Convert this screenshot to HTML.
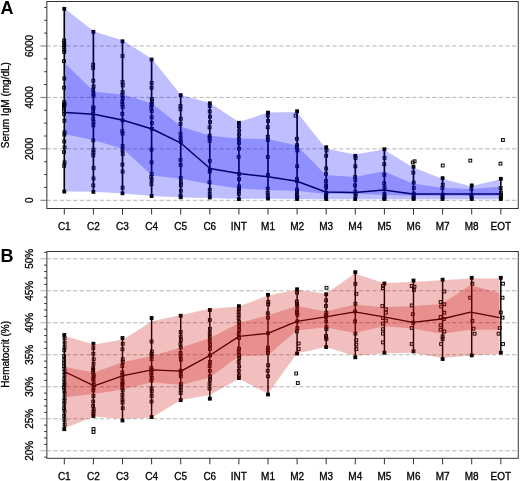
<!DOCTYPE html>
<html><head><meta charset="utf-8"><style>
html,body{margin:0;padding:0;background:#fff;}
svg{display:block;}
.t{font-family:"Liberation Sans",sans-serif;font-size:10px;fill:#000;stroke:#000;stroke-width:0.3px;}
text{-webkit-font-smoothing:antialiased;}
svg{will-change:transform;}
.L{font-family:"Liberation Sans",sans-serif;font-size:18px;font-weight:bold;fill:#000;}
</style></head><body>
<svg width="520" height="481" viewBox="0 0 520 481">
<defs><clipPath id="cA"><rect x="46.85" y="1.5" width="471.4" height="207"/></clipPath><clipPath id="cB"><rect x="46.85" y="251.5" width="471.4" height="206.8"/></clipPath></defs>
<g clip-path="url(#cA)">
<line x1="46.5" x2="518" y1="200.30" y2="200.30" stroke="#b4b4b4" stroke-width="1" stroke-dasharray="4.25,2.4"/>
<line x1="46.5" x2="518" y1="148.86" y2="148.86" stroke="#b4b4b4" stroke-width="1" stroke-dasharray="4.25,2.4"/>
<line x1="46.5" x2="518" y1="97.42" y2="97.42" stroke="#b4b4b4" stroke-width="1" stroke-dasharray="4.25,2.4"/>
<line x1="46.5" x2="518" y1="45.98" y2="45.98" stroke="#b4b4b4" stroke-width="1" stroke-dasharray="4.25,2.4"/>
<line x1="64.3" x2="64.3" y1="8.8" y2="191.6" stroke="#000" stroke-width="1.7"/>
<line x1="93.4" x2="93.4" y1="31.8" y2="191.8" stroke="#000" stroke-width="1.7"/>
<line x1="122.5" x2="122.5" y1="41.3" y2="193.3" stroke="#000" stroke-width="1.7"/>
<line x1="151.6" x2="151.6" y1="59.5" y2="196" stroke="#000" stroke-width="1.7"/>
<line x1="180.7" x2="180.7" y1="95.2" y2="197.3" stroke="#000" stroke-width="1.7"/>
<line x1="209.8" x2="209.8" y1="103.3" y2="197.5" stroke="#000" stroke-width="1.7"/>
<line x1="238.9" x2="238.9" y1="122.8" y2="199" stroke="#000" stroke-width="1.7"/>
<line x1="268.0" x2="268.0" y1="112.6" y2="198.5" stroke="#000" stroke-width="1.7"/>
<line x1="297.1" x2="297.1" y1="111.3" y2="199" stroke="#000" stroke-width="1.7"/>
<line x1="326.2" x2="326.2" y1="147.3" y2="199" stroke="#000" stroke-width="1.7"/>
<line x1="355.3" x2="355.3" y1="155.8" y2="199" stroke="#000" stroke-width="1.7"/>
<line x1="384.4" x2="384.4" y1="149.3" y2="199" stroke="#000" stroke-width="1.7"/>
<line x1="413.5" x2="413.5" y1="166.8" y2="199" stroke="#000" stroke-width="1.7"/>
<line x1="442.6" x2="442.6" y1="178.2" y2="199" stroke="#000" stroke-width="1.7"/>
<line x1="471.7" x2="471.7" y1="185.4" y2="199" stroke="#000" stroke-width="1.7"/>
<line x1="500.8" x2="500.8" y1="178.8" y2="199" stroke="#000" stroke-width="1.7"/>
<polyline points="65.2,112.6 94.2,114.2 123.1,120.2 152.1,129.0 181.0,143.2 210.0,168.5 239.0,173.5 267.9,176.7 296.9,181.3 325.8,192.0 354.8,192.5 383.8,190.0 412.7,194.0 441.7,194.0 470.6,194.0 499.6,194.0" fill="none" stroke="#000" stroke-width="1.5" stroke-linejoin="round"/>
<rect x="62.79" y="39.00" width="2.8" height="2.8" fill="none" stroke="#000" stroke-width="1"/>
<rect x="62.69" y="41.30" width="2.8" height="2.8" fill="none" stroke="#000" stroke-width="1"/>
<rect x="62.99" y="43.60" width="2.8" height="2.8" fill="none" stroke="#000" stroke-width="1"/>
<rect x="62.64" y="45.90" width="2.8" height="2.8" fill="none" stroke="#000" stroke-width="1"/>
<rect x="62.92" y="48.20" width="2.8" height="2.8" fill="none" stroke="#000" stroke-width="1"/>
<rect x="62.82" y="50.60" width="2.8" height="2.8" fill="none" stroke="#000" stroke-width="1"/>
<rect x="62.63" y="59.80" width="2.8" height="2.8" fill="none" stroke="#000" stroke-width="1"/>
<rect x="62.90" y="77.10" width="2.8" height="2.8" fill="none" stroke="#000" stroke-width="1"/>
<rect x="62.62" y="86.30" width="2.8" height="2.8" fill="none" stroke="#000" stroke-width="1"/>
<rect x="62.86" y="102.60" width="2.8" height="2.8" fill="none" stroke="#000" stroke-width="1"/>
<rect x="62.64" y="104.60" width="2.8" height="2.8" fill="none" stroke="#000" stroke-width="1"/>
<rect x="62.65" y="106.60" width="2.8" height="2.8" fill="none" stroke="#000" stroke-width="1"/>
<rect x="62.85" y="100.60" width="2.8" height="2.8" fill="none" stroke="#000" stroke-width="1"/>
<rect x="63.10" y="103.60" width="2.8" height="2.8" fill="none" stroke="#000" stroke-width="1"/>
<rect x="62.67" y="109.60" width="2.8" height="2.8" fill="none" stroke="#000" stroke-width="1"/>
<rect x="62.73" y="112.60" width="2.8" height="2.8" fill="none" stroke="#000" stroke-width="1"/>
<rect x="62.98" y="119.40" width="2.8" height="2.8" fill="none" stroke="#000" stroke-width="1"/>
<rect x="63.17" y="130.90" width="2.8" height="2.8" fill="none" stroke="#000" stroke-width="1"/>
<rect x="62.95" y="133.20" width="2.8" height="2.8" fill="none" stroke="#000" stroke-width="1"/>
<rect x="62.84" y="140.10" width="2.8" height="2.8" fill="none" stroke="#000" stroke-width="1"/>
<rect x="63.19" y="145.90" width="2.8" height="2.8" fill="none" stroke="#000" stroke-width="1"/>
<rect x="62.63" y="150.60" width="2.8" height="2.8" fill="none" stroke="#000" stroke-width="1"/>
<rect x="63.12" y="160.90" width="2.8" height="2.8" fill="none" stroke="#000" stroke-width="1"/>
<rect x="62.77" y="164.40" width="2.8" height="2.8" fill="none" stroke="#000" stroke-width="1"/>
<rect x="62.90" y="7.40" width="2.8" height="2.8" fill="#000" stroke="#000" stroke-width="1"/>
<rect x="62.90" y="190.20" width="2.8" height="2.8" fill="#000" stroke="#000" stroke-width="1"/>
<rect x="91.79" y="63.20" width="2.8" height="2.8" fill="none" stroke="#000" stroke-width="1"/>
<rect x="91.77" y="66.60" width="2.8" height="2.8" fill="none" stroke="#000" stroke-width="1"/>
<rect x="91.89" y="79.40" width="2.8" height="2.8" fill="none" stroke="#000" stroke-width="1"/>
<rect x="92.19" y="85.10" width="2.8" height="2.8" fill="none" stroke="#000" stroke-width="1"/>
<rect x="91.81" y="88.60" width="2.8" height="2.8" fill="none" stroke="#000" stroke-width="1"/>
<rect x="92.05" y="92.10" width="2.8" height="2.8" fill="none" stroke="#000" stroke-width="1"/>
<rect x="92.08" y="94.40" width="2.8" height="2.8" fill="none" stroke="#000" stroke-width="1"/>
<rect x="91.92" y="105.90" width="2.8" height="2.8" fill="none" stroke="#000" stroke-width="1"/>
<rect x="92.03" y="106.60" width="2.8" height="2.8" fill="none" stroke="#000" stroke-width="1"/>
<rect x="91.74" y="110.10" width="2.8" height="2.8" fill="none" stroke="#000" stroke-width="1"/>
<rect x="91.74" y="112.60" width="2.8" height="2.8" fill="none" stroke="#000" stroke-width="1"/>
<rect x="91.82" y="117.10" width="2.8" height="2.8" fill="none" stroke="#000" stroke-width="1"/>
<rect x="92.11" y="120.60" width="2.8" height="2.8" fill="none" stroke="#000" stroke-width="1"/>
<rect x="91.96" y="124.00" width="2.8" height="2.8" fill="none" stroke="#000" stroke-width="1"/>
<rect x="91.89" y="139.00" width="2.8" height="2.8" fill="none" stroke="#000" stroke-width="1"/>
<rect x="92.05" y="148.20" width="2.8" height="2.8" fill="none" stroke="#000" stroke-width="1"/>
<rect x="91.97" y="151.10" width="2.8" height="2.8" fill="none" stroke="#000" stroke-width="1"/>
<rect x="91.88" y="154.00" width="2.8" height="2.8" fill="none" stroke="#000" stroke-width="1"/>
<rect x="92.18" y="166.60" width="2.8" height="2.8" fill="none" stroke="#000" stroke-width="1"/>
<rect x="92.12" y="177.10" width="2.8" height="2.8" fill="none" stroke="#000" stroke-width="1"/>
<rect x="91.85" y="184.00" width="2.8" height="2.8" fill="none" stroke="#000" stroke-width="1"/>
<rect x="92.00" y="30.40" width="2.8" height="2.8" fill="#000" stroke="#000" stroke-width="1"/>
<rect x="92.00" y="190.40" width="2.8" height="2.8" fill="#000" stroke="#000" stroke-width="1"/>
<rect x="121.14" y="54.60" width="2.8" height="2.8" fill="none" stroke="#000" stroke-width="1"/>
<rect x="121.12" y="80.60" width="2.8" height="2.8" fill="none" stroke="#000" stroke-width="1"/>
<rect x="121.33" y="84.00" width="2.8" height="2.8" fill="none" stroke="#000" stroke-width="1"/>
<rect x="121.24" y="90.60" width="2.8" height="2.8" fill="none" stroke="#000" stroke-width="1"/>
<rect x="120.97" y="93.60" width="2.8" height="2.8" fill="none" stroke="#000" stroke-width="1"/>
<rect x="121.39" y="96.60" width="2.8" height="2.8" fill="none" stroke="#000" stroke-width="1"/>
<rect x="120.87" y="100.10" width="2.8" height="2.8" fill="none" stroke="#000" stroke-width="1"/>
<rect x="121.05" y="103.20" width="2.8" height="2.8" fill="none" stroke="#000" stroke-width="1"/>
<rect x="121.25" y="105.60" width="2.8" height="2.8" fill="none" stroke="#000" stroke-width="1"/>
<rect x="120.89" y="112.40" width="2.8" height="2.8" fill="none" stroke="#000" stroke-width="1"/>
<rect x="121.09" y="118.90" width="2.8" height="2.8" fill="none" stroke="#000" stroke-width="1"/>
<rect x="120.82" y="129.80" width="2.8" height="2.8" fill="none" stroke="#000" stroke-width="1"/>
<rect x="121.20" y="132.10" width="2.8" height="2.8" fill="none" stroke="#000" stroke-width="1"/>
<rect x="121.26" y="144.60" width="2.8" height="2.8" fill="none" stroke="#000" stroke-width="1"/>
<rect x="121.14" y="148.60" width="2.8" height="2.8" fill="none" stroke="#000" stroke-width="1"/>
<rect x="121.33" y="152.60" width="2.8" height="2.8" fill="none" stroke="#000" stroke-width="1"/>
<rect x="120.99" y="163.20" width="2.8" height="2.8" fill="none" stroke="#000" stroke-width="1"/>
<rect x="121.22" y="170.10" width="2.8" height="2.8" fill="none" stroke="#000" stroke-width="1"/>
<rect x="121.16" y="186.30" width="2.8" height="2.8" fill="none" stroke="#000" stroke-width="1"/>
<rect x="121.10" y="39.90" width="2.8" height="2.8" fill="#000" stroke="#000" stroke-width="1"/>
<rect x="121.10" y="191.90" width="2.8" height="2.8" fill="#000" stroke="#000" stroke-width="1"/>
<rect x="150.25" y="81.60" width="2.8" height="2.8" fill="none" stroke="#000" stroke-width="1"/>
<rect x="150.17" y="86.30" width="2.8" height="2.8" fill="none" stroke="#000" stroke-width="1"/>
<rect x="150.40" y="97.60" width="2.8" height="2.8" fill="none" stroke="#000" stroke-width="1"/>
<rect x="150.47" y="99.60" width="2.8" height="2.8" fill="none" stroke="#000" stroke-width="1"/>
<rect x="150.18" y="102.60" width="2.8" height="2.8" fill="none" stroke="#000" stroke-width="1"/>
<rect x="150.30" y="103.60" width="2.8" height="2.8" fill="none" stroke="#000" stroke-width="1"/>
<rect x="149.94" y="106.60" width="2.8" height="2.8" fill="none" stroke="#000" stroke-width="1"/>
<rect x="150.32" y="109.60" width="2.8" height="2.8" fill="none" stroke="#000" stroke-width="1"/>
<rect x="150.29" y="115.90" width="2.8" height="2.8" fill="none" stroke="#000" stroke-width="1"/>
<rect x="150.50" y="121.60" width="2.8" height="2.8" fill="none" stroke="#000" stroke-width="1"/>
<rect x="150.39" y="127.40" width="2.8" height="2.8" fill="none" stroke="#000" stroke-width="1"/>
<rect x="150.07" y="148.20" width="2.8" height="2.8" fill="none" stroke="#000" stroke-width="1"/>
<rect x="150.13" y="160.90" width="2.8" height="2.8" fill="none" stroke="#000" stroke-width="1"/>
<rect x="150.30" y="172.40" width="2.8" height="2.8" fill="none" stroke="#000" stroke-width="1"/>
<rect x="149.91" y="175.60" width="2.8" height="2.8" fill="none" stroke="#000" stroke-width="1"/>
<rect x="150.18" y="178.60" width="2.8" height="2.8" fill="none" stroke="#000" stroke-width="1"/>
<rect x="150.00" y="182.80" width="2.8" height="2.8" fill="none" stroke="#000" stroke-width="1"/>
<rect x="150.20" y="58.10" width="2.8" height="2.8" fill="#000" stroke="#000" stroke-width="1"/>
<rect x="150.20" y="194.60" width="2.8" height="2.8" fill="#000" stroke="#000" stroke-width="1"/>
<rect x="179.07" y="104.60" width="2.8" height="2.8" fill="none" stroke="#000" stroke-width="1"/>
<rect x="179.04" y="107.90" width="2.8" height="2.8" fill="none" stroke="#000" stroke-width="1"/>
<rect x="179.46" y="117.40" width="2.8" height="2.8" fill="none" stroke="#000" stroke-width="1"/>
<rect x="179.08" y="122.60" width="2.8" height="2.8" fill="none" stroke="#000" stroke-width="1"/>
<rect x="179.15" y="132.30" width="2.8" height="2.8" fill="none" stroke="#000" stroke-width="1"/>
<rect x="179.23" y="136.60" width="2.8" height="2.8" fill="none" stroke="#000" stroke-width="1"/>
<rect x="179.52" y="140.60" width="2.8" height="2.8" fill="none" stroke="#000" stroke-width="1"/>
<rect x="179.05" y="158.60" width="2.8" height="2.8" fill="none" stroke="#000" stroke-width="1"/>
<rect x="179.27" y="163.60" width="2.8" height="2.8" fill="none" stroke="#000" stroke-width="1"/>
<rect x="179.33" y="176.60" width="2.8" height="2.8" fill="none" stroke="#000" stroke-width="1"/>
<rect x="179.53" y="180.90" width="2.8" height="2.8" fill="none" stroke="#000" stroke-width="1"/>
<rect x="179.49" y="184.10" width="2.8" height="2.8" fill="none" stroke="#000" stroke-width="1"/>
<rect x="179.52" y="189.40" width="2.8" height="2.8" fill="none" stroke="#000" stroke-width="1"/>
<rect x="179.17" y="194.00" width="2.8" height="2.8" fill="none" stroke="#000" stroke-width="1"/>
<rect x="179.30" y="93.80" width="2.8" height="2.8" fill="#000" stroke="#000" stroke-width="1"/>
<rect x="179.30" y="195.90" width="2.8" height="2.8" fill="#000" stroke="#000" stroke-width="1"/>
<rect x="208.35" y="104.60" width="2.8" height="2.8" fill="none" stroke="#000" stroke-width="1"/>
<rect x="208.32" y="110.00" width="2.8" height="2.8" fill="none" stroke="#000" stroke-width="1"/>
<rect x="208.63" y="115.30" width="2.8" height="2.8" fill="none" stroke="#000" stroke-width="1"/>
<rect x="208.67" y="120.60" width="2.8" height="2.8" fill="none" stroke="#000" stroke-width="1"/>
<rect x="208.19" y="125.90" width="2.8" height="2.8" fill="none" stroke="#000" stroke-width="1"/>
<rect x="208.21" y="134.40" width="2.8" height="2.8" fill="none" stroke="#000" stroke-width="1"/>
<rect x="208.24" y="136.50" width="2.8" height="2.8" fill="none" stroke="#000" stroke-width="1"/>
<rect x="208.24" y="139.60" width="2.8" height="2.8" fill="none" stroke="#000" stroke-width="1"/>
<rect x="208.39" y="159.60" width="2.8" height="2.8" fill="none" stroke="#000" stroke-width="1"/>
<rect x="208.45" y="168.20" width="2.8" height="2.8" fill="none" stroke="#000" stroke-width="1"/>
<rect x="208.26" y="170.30" width="2.8" height="2.8" fill="none" stroke="#000" stroke-width="1"/>
<rect x="208.10" y="180.90" width="2.8" height="2.8" fill="none" stroke="#000" stroke-width="1"/>
<rect x="208.35" y="188.30" width="2.8" height="2.8" fill="none" stroke="#000" stroke-width="1"/>
<rect x="208.32" y="192.60" width="2.8" height="2.8" fill="none" stroke="#000" stroke-width="1"/>
<rect x="208.40" y="101.90" width="2.8" height="2.8" fill="#000" stroke="#000" stroke-width="1"/>
<rect x="208.40" y="196.10" width="2.8" height="2.8" fill="#000" stroke="#000" stroke-width="1"/>
<rect x="237.54" y="124.90" width="2.8" height="2.8" fill="none" stroke="#000" stroke-width="1"/>
<rect x="237.77" y="129.10" width="2.8" height="2.8" fill="none" stroke="#000" stroke-width="1"/>
<rect x="237.61" y="133.30" width="2.8" height="2.8" fill="none" stroke="#000" stroke-width="1"/>
<rect x="237.51" y="137.60" width="2.8" height="2.8" fill="none" stroke="#000" stroke-width="1"/>
<rect x="237.57" y="141.60" width="2.8" height="2.8" fill="none" stroke="#000" stroke-width="1"/>
<rect x="237.61" y="147.10" width="2.8" height="2.8" fill="none" stroke="#000" stroke-width="1"/>
<rect x="237.23" y="155.60" width="2.8" height="2.8" fill="none" stroke="#000" stroke-width="1"/>
<rect x="237.74" y="172.40" width="2.8" height="2.8" fill="none" stroke="#000" stroke-width="1"/>
<rect x="237.67" y="177.60" width="2.8" height="2.8" fill="none" stroke="#000" stroke-width="1"/>
<rect x="237.72" y="185.10" width="2.8" height="2.8" fill="none" stroke="#000" stroke-width="1"/>
<rect x="237.68" y="187.30" width="2.8" height="2.8" fill="none" stroke="#000" stroke-width="1"/>
<rect x="237.44" y="189.40" width="2.8" height="2.8" fill="none" stroke="#000" stroke-width="1"/>
<rect x="237.44" y="192.60" width="2.8" height="2.8" fill="none" stroke="#000" stroke-width="1"/>
<rect x="237.50" y="121.40" width="2.8" height="2.8" fill="#000" stroke="#000" stroke-width="1"/>
<rect x="237.50" y="197.60" width="2.8" height="2.8" fill="#000" stroke="#000" stroke-width="1"/>
<rect x="266.36" y="114.30" width="2.8" height="2.8" fill="none" stroke="#000" stroke-width="1"/>
<rect x="266.68" y="119.60" width="2.8" height="2.8" fill="none" stroke="#000" stroke-width="1"/>
<rect x="266.34" y="125.90" width="2.8" height="2.8" fill="none" stroke="#000" stroke-width="1"/>
<rect x="266.34" y="135.40" width="2.8" height="2.8" fill="none" stroke="#000" stroke-width="1"/>
<rect x="266.43" y="138.60" width="2.8" height="2.8" fill="none" stroke="#000" stroke-width="1"/>
<rect x="266.40" y="155.60" width="2.8" height="2.8" fill="none" stroke="#000" stroke-width="1"/>
<rect x="266.50" y="173.60" width="2.8" height="2.8" fill="none" stroke="#000" stroke-width="1"/>
<rect x="266.33" y="187.20" width="2.8" height="2.8" fill="none" stroke="#000" stroke-width="1"/>
<rect x="266.30" y="191.50" width="2.8" height="2.8" fill="none" stroke="#000" stroke-width="1"/>
<rect x="266.39" y="194.60" width="2.8" height="2.8" fill="none" stroke="#000" stroke-width="1"/>
<rect x="266.60" y="111.20" width="2.8" height="2.8" fill="#000" stroke="#000" stroke-width="1"/>
<rect x="266.60" y="197.10" width="2.8" height="2.8" fill="#000" stroke="#000" stroke-width="1"/>
<rect x="294.20" y="114.20" width="2.8" height="2.8" fill="none" stroke="#000" stroke-width="1"/>
<rect x="295.46" y="137.40" width="2.8" height="2.8" fill="none" stroke="#000" stroke-width="1"/>
<rect x="295.62" y="143.80" width="2.8" height="2.8" fill="none" stroke="#000" stroke-width="1"/>
<rect x="295.42" y="145.90" width="2.8" height="2.8" fill="none" stroke="#000" stroke-width="1"/>
<rect x="295.92" y="149.10" width="2.8" height="2.8" fill="none" stroke="#000" stroke-width="1"/>
<rect x="295.77" y="164.90" width="2.8" height="2.8" fill="none" stroke="#000" stroke-width="1"/>
<rect x="295.49" y="177.60" width="2.8" height="2.8" fill="none" stroke="#000" stroke-width="1"/>
<rect x="295.55" y="179.80" width="2.8" height="2.8" fill="none" stroke="#000" stroke-width="1"/>
<rect x="295.61" y="188.20" width="2.8" height="2.8" fill="none" stroke="#000" stroke-width="1"/>
<rect x="295.62" y="190.30" width="2.8" height="2.8" fill="none" stroke="#000" stroke-width="1"/>
<rect x="295.47" y="193.60" width="2.8" height="2.8" fill="none" stroke="#000" stroke-width="1"/>
<rect x="295.91" y="195.60" width="2.8" height="2.8" fill="none" stroke="#000" stroke-width="1"/>
<rect x="295.70" y="109.90" width="2.8" height="2.8" fill="#000" stroke="#000" stroke-width="1"/>
<rect x="295.70" y="197.60" width="2.8" height="2.8" fill="#000" stroke="#000" stroke-width="1"/>
<rect x="325.10" y="149.10" width="2.8" height="2.8" fill="none" stroke="#000" stroke-width="1"/>
<rect x="324.78" y="154.40" width="2.8" height="2.8" fill="none" stroke="#000" stroke-width="1"/>
<rect x="324.79" y="167.10" width="2.8" height="2.8" fill="none" stroke="#000" stroke-width="1"/>
<rect x="324.55" y="172.40" width="2.8" height="2.8" fill="none" stroke="#000" stroke-width="1"/>
<rect x="324.56" y="179.60" width="2.8" height="2.8" fill="none" stroke="#000" stroke-width="1"/>
<rect x="324.71" y="184.00" width="2.8" height="2.8" fill="none" stroke="#000" stroke-width="1"/>
<rect x="324.66" y="186.10" width="2.8" height="2.8" fill="none" stroke="#000" stroke-width="1"/>
<rect x="325.00" y="191.40" width="2.8" height="2.8" fill="none" stroke="#000" stroke-width="1"/>
<rect x="324.60" y="193.60" width="2.8" height="2.8" fill="none" stroke="#000" stroke-width="1"/>
<rect x="324.51" y="195.60" width="2.8" height="2.8" fill="none" stroke="#000" stroke-width="1"/>
<rect x="324.80" y="145.90" width="2.8" height="2.8" fill="#000" stroke="#000" stroke-width="1"/>
<rect x="324.80" y="197.60" width="2.8" height="2.8" fill="#000" stroke="#000" stroke-width="1"/>
<rect x="354.17" y="156.60" width="2.8" height="2.8" fill="none" stroke="#000" stroke-width="1"/>
<rect x="353.92" y="164.90" width="2.8" height="2.8" fill="none" stroke="#000" stroke-width="1"/>
<rect x="353.69" y="175.60" width="2.8" height="2.8" fill="none" stroke="#000" stroke-width="1"/>
<rect x="353.93" y="178.60" width="2.8" height="2.8" fill="none" stroke="#000" stroke-width="1"/>
<rect x="353.62" y="184.00" width="2.8" height="2.8" fill="none" stroke="#000" stroke-width="1"/>
<rect x="353.92" y="190.30" width="2.8" height="2.8" fill="none" stroke="#000" stroke-width="1"/>
<rect x="354.19" y="192.60" width="2.8" height="2.8" fill="none" stroke="#000" stroke-width="1"/>
<rect x="354.12" y="194.60" width="2.8" height="2.8" fill="none" stroke="#000" stroke-width="1"/>
<rect x="353.90" y="154.40" width="2.8" height="2.8" fill="#000" stroke="#000" stroke-width="1"/>
<rect x="353.90" y="197.60" width="2.8" height="2.8" fill="#000" stroke="#000" stroke-width="1"/>
<rect x="383.12" y="156.50" width="2.8" height="2.8" fill="none" stroke="#000" stroke-width="1"/>
<rect x="382.86" y="162.80" width="2.8" height="2.8" fill="none" stroke="#000" stroke-width="1"/>
<rect x="382.92" y="173.40" width="2.8" height="2.8" fill="none" stroke="#000" stroke-width="1"/>
<rect x="382.80" y="181.90" width="2.8" height="2.8" fill="none" stroke="#000" stroke-width="1"/>
<rect x="383.16" y="186.10" width="2.8" height="2.8" fill="none" stroke="#000" stroke-width="1"/>
<rect x="383.02" y="192.40" width="2.8" height="2.8" fill="none" stroke="#000" stroke-width="1"/>
<rect x="383.17" y="194.60" width="2.8" height="2.8" fill="none" stroke="#000" stroke-width="1"/>
<rect x="382.90" y="196.60" width="2.8" height="2.8" fill="none" stroke="#000" stroke-width="1"/>
<rect x="383.00" y="147.90" width="2.8" height="2.8" fill="#000" stroke="#000" stroke-width="1"/>
<rect x="383.00" y="197.60" width="2.8" height="2.8" fill="#000" stroke="#000" stroke-width="1"/>
<rect x="411.93" y="171.20" width="2.8" height="2.8" fill="none" stroke="#000" stroke-width="1"/>
<rect x="412.29" y="181.20" width="2.8" height="2.8" fill="none" stroke="#000" stroke-width="1"/>
<rect x="412.39" y="186.60" width="2.8" height="2.8" fill="none" stroke="#000" stroke-width="1"/>
<rect x="412.31" y="192.20" width="2.8" height="2.8" fill="none" stroke="#000" stroke-width="1"/>
<rect x="412.28" y="194.60" width="2.8" height="2.8" fill="none" stroke="#000" stroke-width="1"/>
<rect x="412.29" y="196.60" width="2.8" height="2.8" fill="none" stroke="#000" stroke-width="1"/>
<rect x="412.10" y="165.40" width="2.8" height="2.8" fill="#000" stroke="#000" stroke-width="1"/>
<rect x="412.10" y="197.60" width="2.8" height="2.8" fill="#000" stroke="#000" stroke-width="1"/>
<rect x="411.40" y="161.10" width="2.8" height="2.8" fill="none" stroke="#000" stroke-width="1"/>
<rect x="413.20" y="159.90" width="2.8" height="2.8" fill="none" stroke="#000" stroke-width="1"/>
<rect x="441.34" y="183.40" width="2.8" height="2.8" fill="none" stroke="#000" stroke-width="1"/>
<rect x="441.04" y="186.60" width="2.8" height="2.8" fill="none" stroke="#000" stroke-width="1"/>
<rect x="441.21" y="193.30" width="2.8" height="2.8" fill="none" stroke="#000" stroke-width="1"/>
<rect x="441.11" y="195.60" width="2.8" height="2.8" fill="none" stroke="#000" stroke-width="1"/>
<rect x="441.20" y="176.80" width="2.8" height="2.8" fill="#000" stroke="#000" stroke-width="1"/>
<rect x="441.20" y="197.60" width="2.8" height="2.8" fill="#000" stroke="#000" stroke-width="1"/>
<rect x="441.30" y="164.10" width="2.8" height="2.8" fill="none" stroke="#000" stroke-width="1"/>
<rect x="470.02" y="187.80" width="2.8" height="2.8" fill="none" stroke="#000" stroke-width="1"/>
<rect x="470.02" y="193.30" width="2.8" height="2.8" fill="none" stroke="#000" stroke-width="1"/>
<rect x="470.17" y="195.60" width="2.8" height="2.8" fill="none" stroke="#000" stroke-width="1"/>
<rect x="470.30" y="184.00" width="2.8" height="2.8" fill="#000" stroke="#000" stroke-width="1"/>
<rect x="470.30" y="197.60" width="2.8" height="2.8" fill="#000" stroke="#000" stroke-width="1"/>
<rect x="468.90" y="159.20" width="2.8" height="2.8" fill="none" stroke="#000" stroke-width="1"/>
<rect x="499.26" y="186.60" width="2.8" height="2.8" fill="none" stroke="#000" stroke-width="1"/>
<rect x="499.52" y="191.10" width="2.8" height="2.8" fill="none" stroke="#000" stroke-width="1"/>
<rect x="499.67" y="194.10" width="2.8" height="2.8" fill="none" stroke="#000" stroke-width="1"/>
<rect x="499.37" y="196.10" width="2.8" height="2.8" fill="none" stroke="#000" stroke-width="1"/>
<rect x="499.40" y="177.40" width="2.8" height="2.8" fill="#000" stroke="#000" stroke-width="1"/>
<rect x="499.40" y="197.60" width="2.8" height="2.8" fill="#000" stroke="#000" stroke-width="1"/>
<rect x="501.50" y="138.60" width="2.8" height="2.8" fill="none" stroke="#000" stroke-width="1"/>
<rect x="499.10" y="162.20" width="2.8" height="2.8" fill="none" stroke="#000" stroke-width="1"/>
<polygon points="65.2,9.0 94.2,31.5 123.1,40.5 152.1,59.0 181.0,95.0 210.0,103.0 239.0,122.0 267.9,112.5 296.9,112.0 325.8,148.5 354.8,154.5 383.8,149.5 412.7,167.3 441.7,178.6 470.6,186.2 499.6,179.4 499.6,199.2 470.6,199.2 441.7,199.2 412.7,199.2 383.8,199.2 354.8,199.2 325.8,199.2 296.9,199.0 267.9,198.7 239.0,199.0 210.0,198.0 181.0,197.5 152.1,196.0 123.1,193.5 94.2,191.7 65.2,191.6" fill="#0000ff" fill-opacity="0.25"/>
<polygon points="65.2,63.5 94.2,91.8 123.1,94.5 152.1,103.5 181.0,126.5 210.0,135.8 239.0,138.5 267.9,139.0 296.9,145.5 325.8,175.0 354.8,177.0 383.8,171.3 412.7,183.4 441.7,187.7 470.6,189.0 499.6,186.7 499.6,195.8 470.6,195.8 441.7,195.8 412.7,195.8 383.8,195.0 354.8,193.7 325.8,193.7 296.9,191.0 267.9,190.0 239.0,188.5 210.0,184.3 181.0,178.7 152.1,175.5 123.1,149.0 94.2,140.2 65.2,134.3" fill="#0000ff" fill-opacity="0.25"/>
</g>
<rect x="46.85" y="1.5" width="471.4" height="207.0" fill="none" stroke="#333" stroke-width="1"/>
<line x1="40.4" x2="46.85" y1="200.30" y2="200.30" stroke="#777" stroke-width="1"/>
<line x1="40.4" x2="46.85" y1="148.86" y2="148.86" stroke="#777" stroke-width="1"/>
<line x1="40.4" x2="46.85" y1="97.42" y2="97.42" stroke="#777" stroke-width="1"/>
<line x1="40.4" x2="46.85" y1="45.98" y2="45.98" stroke="#777" stroke-width="1"/>
<line x1="44.2" x2="46.85" y1="187.44" y2="187.44" stroke="#333" stroke-width="1"/>
<line x1="44.2" x2="46.85" y1="174.58" y2="174.58" stroke="#333" stroke-width="1"/>
<line x1="44.2" x2="46.85" y1="161.72" y2="161.72" stroke="#333" stroke-width="1"/>
<line x1="44.2" x2="46.85" y1="136.00" y2="136.00" stroke="#333" stroke-width="1"/>
<line x1="44.2" x2="46.85" y1="123.14" y2="123.14" stroke="#333" stroke-width="1"/>
<line x1="44.2" x2="46.85" y1="110.28" y2="110.28" stroke="#333" stroke-width="1"/>
<line x1="44.2" x2="46.85" y1="84.56" y2="84.56" stroke="#333" stroke-width="1"/>
<line x1="44.2" x2="46.85" y1="71.70" y2="71.70" stroke="#333" stroke-width="1"/>
<line x1="44.2" x2="46.85" y1="58.84" y2="58.84" stroke="#333" stroke-width="1"/>
<line x1="44.2" x2="46.85" y1="33.12" y2="33.12" stroke="#333" stroke-width="1"/>
<line x1="44.2" x2="46.85" y1="20.26" y2="20.26" stroke="#333" stroke-width="1"/>
<line x1="44.2" x2="46.85" y1="7.40" y2="7.40" stroke="#333" stroke-width="1"/>
<line x1="64.3" x2="64.3" y1="208.5" y2="214.5" stroke="#333" stroke-width="1"/>
<line x1="93.4" x2="93.4" y1="208.5" y2="214.5" stroke="#333" stroke-width="1"/>
<line x1="122.5" x2="122.5" y1="208.5" y2="214.5" stroke="#333" stroke-width="1"/>
<line x1="151.6" x2="151.6" y1="208.5" y2="214.5" stroke="#333" stroke-width="1"/>
<line x1="180.7" x2="180.7" y1="208.5" y2="214.5" stroke="#333" stroke-width="1"/>
<line x1="209.8" x2="209.8" y1="208.5" y2="214.5" stroke="#333" stroke-width="1"/>
<line x1="238.9" x2="238.9" y1="208.5" y2="214.5" stroke="#333" stroke-width="1"/>
<line x1="268.0" x2="268.0" y1="208.5" y2="214.5" stroke="#333" stroke-width="1"/>
<line x1="297.1" x2="297.1" y1="208.5" y2="214.5" stroke="#333" stroke-width="1"/>
<line x1="326.2" x2="326.2" y1="208.5" y2="214.5" stroke="#333" stroke-width="1"/>
<line x1="355.3" x2="355.3" y1="208.5" y2="214.5" stroke="#333" stroke-width="1"/>
<line x1="384.4" x2="384.4" y1="208.5" y2="214.5" stroke="#333" stroke-width="1"/>
<line x1="413.5" x2="413.5" y1="208.5" y2="214.5" stroke="#333" stroke-width="1"/>
<line x1="442.6" x2="442.6" y1="208.5" y2="214.5" stroke="#333" stroke-width="1"/>
<line x1="471.7" x2="471.7" y1="208.5" y2="214.5" stroke="#333" stroke-width="1"/>
<line x1="500.8" x2="500.8" y1="208.5" y2="214.5" stroke="#333" stroke-width="1"/>
<text transform="translate(32.6,200.30) rotate(-90)" text-anchor="middle" class="t">0</text>
<text transform="translate(32.6,148.86) rotate(-90)" text-anchor="middle" class="t">2000</text>
<text transform="translate(32.6,97.42) rotate(-90)" text-anchor="middle" class="t">4000</text>
<text transform="translate(32.6,45.98) rotate(-90)" text-anchor="middle" class="t">6000</text>
<text x="64.3" y="230.0" text-anchor="middle" class="t">C1</text>
<text x="93.4" y="230.0" text-anchor="middle" class="t">C2</text>
<text x="122.5" y="230.0" text-anchor="middle" class="t">C3</text>
<text x="151.6" y="230.0" text-anchor="middle" class="t">C4</text>
<text x="180.7" y="230.0" text-anchor="middle" class="t">C5</text>
<text x="209.8" y="230.0" text-anchor="middle" class="t">C6</text>
<text x="238.9" y="230.0" text-anchor="middle" class="t">INT</text>
<text x="268.0" y="230.0" text-anchor="middle" class="t">M1</text>
<text x="297.1" y="230.0" text-anchor="middle" class="t">M2</text>
<text x="326.2" y="230.0" text-anchor="middle" class="t">M3</text>
<text x="355.3" y="230.0" text-anchor="middle" class="t">M4</text>
<text x="384.4" y="230.0" text-anchor="middle" class="t">M5</text>
<text x="413.5" y="230.0" text-anchor="middle" class="t">M6</text>
<text x="442.6" y="230.0" text-anchor="middle" class="t">M7</text>
<text x="471.7" y="230.0" text-anchor="middle" class="t">M8</text>
<text x="500.8" y="230.0" text-anchor="middle" class="t">EOT</text>
<text transform="translate(8.6,105.2) rotate(-90)" text-anchor="middle" class="t">Serum IgM (mg/dL)</text>
<text x="0.5" y="13.7" class="L">A</text>
<g clip-path="url(#cB)">
<line x1="46.5" x2="518" y1="450.75" y2="450.75" stroke="#b4b4b4" stroke-width="1" stroke-dasharray="4.25,2.4"/>
<line x1="46.5" x2="518" y1="418.75" y2="418.75" stroke="#b4b4b4" stroke-width="1" stroke-dasharray="4.25,2.4"/>
<line x1="46.5" x2="518" y1="386.75" y2="386.75" stroke="#b4b4b4" stroke-width="1" stroke-dasharray="4.25,2.4"/>
<line x1="46.5" x2="518" y1="354.75" y2="354.75" stroke="#b4b4b4" stroke-width="1" stroke-dasharray="4.25,2.4"/>
<line x1="46.5" x2="518" y1="322.75" y2="322.75" stroke="#b4b4b4" stroke-width="1" stroke-dasharray="4.25,2.4"/>
<line x1="46.5" x2="518" y1="290.75" y2="290.75" stroke="#b4b4b4" stroke-width="1" stroke-dasharray="4.25,2.4"/>
<line x1="46.5" x2="518" y1="258.75" y2="258.75" stroke="#b4b4b4" stroke-width="1" stroke-dasharray="4.25,2.4"/>
<line x1="64.3" x2="64.3" y1="335" y2="429.2" stroke="#000" stroke-width="1.45"/>
<line x1="93.4" x2="93.4" y1="343.7" y2="416" stroke="#000" stroke-width="1.45"/>
<line x1="122.5" x2="122.5" y1="338" y2="420.5" stroke="#000" stroke-width="1.45"/>
<line x1="151.6" x2="151.6" y1="318" y2="417" stroke="#000" stroke-width="1.45"/>
<line x1="180.7" x2="180.7" y1="315.7" y2="400" stroke="#000" stroke-width="1.45"/>
<line x1="209.8" x2="209.8" y1="310" y2="398.7" stroke="#000" stroke-width="1.45"/>
<line x1="238.9" x2="238.9" y1="306.2" y2="378" stroke="#000" stroke-width="1.45"/>
<line x1="268.0" x2="268.0" y1="294.8" y2="394.5" stroke="#000" stroke-width="1.45"/>
<line x1="297.1" x2="297.1" y1="289.3" y2="353.5" stroke="#000" stroke-width="1.45"/>
<line x1="326.2" x2="326.2" y1="294.3" y2="347" stroke="#000" stroke-width="1.45"/>
<line x1="355.3" x2="355.3" y1="272.2" y2="357.3" stroke="#000" stroke-width="1.45"/>
<line x1="384.4" x2="384.4" y1="283.5" y2="352.7" stroke="#000" stroke-width="1.45"/>
<line x1="413.5" x2="413.5" y1="280.5" y2="351.4" stroke="#000" stroke-width="1.45"/>
<line x1="442.6" x2="442.6" y1="279.7" y2="359" stroke="#000" stroke-width="1.45"/>
<line x1="471.7" x2="471.7" y1="277.8" y2="355.4" stroke="#000" stroke-width="1.45"/>
<line x1="500.8" x2="500.8" y1="277.8" y2="352.7" stroke="#000" stroke-width="1.45"/>
<polyline points="65.2,372.0 94.2,385.8 123.1,375.6 152.1,369.8 181.0,371.2 210.0,355.3 239.0,336.4 267.9,333.3 296.9,321.3 325.8,316.8 354.8,311.9 383.8,316.8 412.7,322.4 441.7,319.0 470.6,312.2 499.6,317.6" fill="none" stroke="#000" stroke-width="1.35" stroke-linejoin="round"/>
<rect x="63.16" y="336.80" width="2.8" height="2.8" fill="none" stroke="#000" stroke-width="1"/>
<rect x="63.19" y="341.30" width="2.8" height="2.8" fill="none" stroke="#000" stroke-width="1"/>
<rect x="63.17" y="345.60" width="2.8" height="2.8" fill="none" stroke="#000" stroke-width="1"/>
<rect x="62.82" y="349.00" width="2.8" height="2.8" fill="none" stroke="#000" stroke-width="1"/>
<rect x="62.73" y="354.60" width="2.8" height="2.8" fill="none" stroke="#000" stroke-width="1"/>
<rect x="62.74" y="358.60" width="2.8" height="2.8" fill="none" stroke="#000" stroke-width="1"/>
<rect x="62.72" y="361.60" width="2.8" height="2.8" fill="none" stroke="#000" stroke-width="1"/>
<rect x="62.72" y="364.60" width="2.8" height="2.8" fill="none" stroke="#000" stroke-width="1"/>
<rect x="62.97" y="367.60" width="2.8" height="2.8" fill="none" stroke="#000" stroke-width="1"/>
<rect x="63.14" y="370.60" width="2.8" height="2.8" fill="none" stroke="#000" stroke-width="1"/>
<rect x="63.10" y="373.60" width="2.8" height="2.8" fill="none" stroke="#000" stroke-width="1"/>
<rect x="62.89" y="377.60" width="2.8" height="2.8" fill="none" stroke="#000" stroke-width="1"/>
<rect x="62.99" y="381.30" width="2.8" height="2.8" fill="none" stroke="#000" stroke-width="1"/>
<rect x="63.08" y="383.60" width="2.8" height="2.8" fill="none" stroke="#000" stroke-width="1"/>
<rect x="62.65" y="385.80" width="2.8" height="2.8" fill="none" stroke="#000" stroke-width="1"/>
<rect x="63.00" y="389.10" width="2.8" height="2.8" fill="none" stroke="#000" stroke-width="1"/>
<rect x="63.15" y="392.40" width="2.8" height="2.8" fill="none" stroke="#000" stroke-width="1"/>
<rect x="63.07" y="396.80" width="2.8" height="2.8" fill="none" stroke="#000" stroke-width="1"/>
<rect x="63.05" y="399.60" width="2.8" height="2.8" fill="none" stroke="#000" stroke-width="1"/>
<rect x="62.89" y="402.40" width="2.8" height="2.8" fill="none" stroke="#000" stroke-width="1"/>
<rect x="62.71" y="406.80" width="2.8" height="2.8" fill="none" stroke="#000" stroke-width="1"/>
<rect x="63.07" y="410.10" width="2.8" height="2.8" fill="none" stroke="#000" stroke-width="1"/>
<rect x="62.80" y="414.60" width="2.8" height="2.8" fill="none" stroke="#000" stroke-width="1"/>
<rect x="63.08" y="419.00" width="2.8" height="2.8" fill="none" stroke="#000" stroke-width="1"/>
<rect x="63.18" y="423.40" width="2.8" height="2.8" fill="none" stroke="#000" stroke-width="1"/>
<rect x="62.90" y="333.60" width="2.8" height="2.8" fill="#000" stroke="#000" stroke-width="1"/>
<rect x="62.90" y="427.80" width="2.8" height="2.8" fill="#000" stroke="#000" stroke-width="1"/>
<rect x="91.94" y="346.80" width="2.8" height="2.8" fill="none" stroke="#000" stroke-width="1"/>
<rect x="91.94" y="352.30" width="2.8" height="2.8" fill="none" stroke="#000" stroke-width="1"/>
<rect x="92.27" y="357.80" width="2.8" height="2.8" fill="none" stroke="#000" stroke-width="1"/>
<rect x="92.13" y="362.30" width="2.8" height="2.8" fill="none" stroke="#000" stroke-width="1"/>
<rect x="91.80" y="366.60" width="2.8" height="2.8" fill="none" stroke="#000" stroke-width="1"/>
<rect x="91.78" y="368.60" width="2.8" height="2.8" fill="none" stroke="#000" stroke-width="1"/>
<rect x="91.79" y="371.10" width="2.8" height="2.8" fill="none" stroke="#000" stroke-width="1"/>
<rect x="92.24" y="373.60" width="2.8" height="2.8" fill="none" stroke="#000" stroke-width="1"/>
<rect x="92.18" y="375.60" width="2.8" height="2.8" fill="none" stroke="#000" stroke-width="1"/>
<rect x="91.79" y="377.60" width="2.8" height="2.8" fill="none" stroke="#000" stroke-width="1"/>
<rect x="92.20" y="380.20" width="2.8" height="2.8" fill="none" stroke="#000" stroke-width="1"/>
<rect x="92.29" y="383.60" width="2.8" height="2.8" fill="none" stroke="#000" stroke-width="1"/>
<rect x="92.09" y="386.60" width="2.8" height="2.8" fill="none" stroke="#000" stroke-width="1"/>
<rect x="91.91" y="389.10" width="2.8" height="2.8" fill="none" stroke="#000" stroke-width="1"/>
<rect x="92.03" y="394.60" width="2.8" height="2.8" fill="none" stroke="#000" stroke-width="1"/>
<rect x="91.78" y="400.10" width="2.8" height="2.8" fill="none" stroke="#000" stroke-width="1"/>
<rect x="91.71" y="404.60" width="2.8" height="2.8" fill="none" stroke="#000" stroke-width="1"/>
<rect x="92.28" y="407.90" width="2.8" height="2.8" fill="none" stroke="#000" stroke-width="1"/>
<rect x="92.09" y="410.10" width="2.8" height="2.8" fill="none" stroke="#000" stroke-width="1"/>
<rect x="92.02" y="412.30" width="2.8" height="2.8" fill="none" stroke="#000" stroke-width="1"/>
<rect x="92.00" y="342.30" width="2.8" height="2.8" fill="#000" stroke="#000" stroke-width="1"/>
<rect x="92.00" y="414.60" width="2.8" height="2.8" fill="#000" stroke="#000" stroke-width="1"/>
<rect x="92.10" y="427.60" width="2.8" height="2.8" fill="none" stroke="#000" stroke-width="1"/>
<rect x="92.10" y="430.60" width="2.8" height="2.8" fill="none" stroke="#000" stroke-width="1"/>
<rect x="121.36" y="342.40" width="2.8" height="2.8" fill="none" stroke="#000" stroke-width="1"/>
<rect x="121.06" y="347.90" width="2.8" height="2.8" fill="none" stroke="#000" stroke-width="1"/>
<rect x="121.32" y="357.80" width="2.8" height="2.8" fill="none" stroke="#000" stroke-width="1"/>
<rect x="121.30" y="360.60" width="2.8" height="2.8" fill="none" stroke="#000" stroke-width="1"/>
<rect x="120.93" y="364.60" width="2.8" height="2.8" fill="none" stroke="#000" stroke-width="1"/>
<rect x="120.95" y="371.10" width="2.8" height="2.8" fill="none" stroke="#000" stroke-width="1"/>
<rect x="120.98" y="373.60" width="2.8" height="2.8" fill="none" stroke="#000" stroke-width="1"/>
<rect x="120.94" y="376.60" width="2.8" height="2.8" fill="none" stroke="#000" stroke-width="1"/>
<rect x="121.15" y="380.20" width="2.8" height="2.8" fill="none" stroke="#000" stroke-width="1"/>
<rect x="120.96" y="382.20" width="2.8" height="2.8" fill="none" stroke="#000" stroke-width="1"/>
<rect x="121.05" y="383.60" width="2.8" height="2.8" fill="none" stroke="#000" stroke-width="1"/>
<rect x="120.88" y="386.60" width="2.8" height="2.8" fill="none" stroke="#000" stroke-width="1"/>
<rect x="121.35" y="389.10" width="2.8" height="2.8" fill="none" stroke="#000" stroke-width="1"/>
<rect x="121.01" y="393.60" width="2.8" height="2.8" fill="none" stroke="#000" stroke-width="1"/>
<rect x="121.07" y="397.90" width="2.8" height="2.8" fill="none" stroke="#000" stroke-width="1"/>
<rect x="121.15" y="401.30" width="2.8" height="2.8" fill="none" stroke="#000" stroke-width="1"/>
<rect x="121.34" y="406.80" width="2.8" height="2.8" fill="none" stroke="#000" stroke-width="1"/>
<rect x="121.10" y="336.60" width="2.8" height="2.8" fill="#000" stroke="#000" stroke-width="1"/>
<rect x="121.10" y="419.10" width="2.8" height="2.8" fill="#000" stroke="#000" stroke-width="1"/>
<rect x="150.15" y="340.10" width="2.8" height="2.8" fill="none" stroke="#000" stroke-width="1"/>
<rect x="150.45" y="350.10" width="2.8" height="2.8" fill="none" stroke="#000" stroke-width="1"/>
<rect x="150.20" y="352.60" width="2.8" height="2.8" fill="none" stroke="#000" stroke-width="1"/>
<rect x="150.22" y="354.60" width="2.8" height="2.8" fill="none" stroke="#000" stroke-width="1"/>
<rect x="150.21" y="357.80" width="2.8" height="2.8" fill="none" stroke="#000" stroke-width="1"/>
<rect x="149.91" y="366.60" width="2.8" height="2.8" fill="none" stroke="#000" stroke-width="1"/>
<rect x="150.16" y="368.60" width="2.8" height="2.8" fill="none" stroke="#000" stroke-width="1"/>
<rect x="150.01" y="371.10" width="2.8" height="2.8" fill="none" stroke="#000" stroke-width="1"/>
<rect x="149.90" y="373.60" width="2.8" height="2.8" fill="none" stroke="#000" stroke-width="1"/>
<rect x="150.38" y="376.60" width="2.8" height="2.8" fill="none" stroke="#000" stroke-width="1"/>
<rect x="150.00" y="379.10" width="2.8" height="2.8" fill="none" stroke="#000" stroke-width="1"/>
<rect x="150.18" y="386.90" width="2.8" height="2.8" fill="none" stroke="#000" stroke-width="1"/>
<rect x="150.34" y="390.20" width="2.8" height="2.8" fill="none" stroke="#000" stroke-width="1"/>
<rect x="150.23" y="394.60" width="2.8" height="2.8" fill="none" stroke="#000" stroke-width="1"/>
<rect x="150.10" y="400.10" width="2.8" height="2.8" fill="none" stroke="#000" stroke-width="1"/>
<rect x="150.20" y="316.60" width="2.8" height="2.8" fill="#000" stroke="#000" stroke-width="1"/>
<rect x="150.20" y="415.60" width="2.8" height="2.8" fill="#000" stroke="#000" stroke-width="1"/>
<rect x="179.31" y="330.60" width="2.8" height="2.8" fill="none" stroke="#000" stroke-width="1"/>
<rect x="179.33" y="335.10" width="2.8" height="2.8" fill="none" stroke="#000" stroke-width="1"/>
<rect x="179.47" y="338.60" width="2.8" height="2.8" fill="none" stroke="#000" stroke-width="1"/>
<rect x="179.06" y="342.60" width="2.8" height="2.8" fill="none" stroke="#000" stroke-width="1"/>
<rect x="179.34" y="346.20" width="2.8" height="2.8" fill="none" stroke="#000" stroke-width="1"/>
<rect x="179.15" y="351.60" width="2.8" height="2.8" fill="none" stroke="#000" stroke-width="1"/>
<rect x="179.17" y="354.60" width="2.8" height="2.8" fill="none" stroke="#000" stroke-width="1"/>
<rect x="179.46" y="358.30" width="2.8" height="2.8" fill="none" stroke="#000" stroke-width="1"/>
<rect x="179.30" y="369.40" width="2.8" height="2.8" fill="none" stroke="#000" stroke-width="1"/>
<rect x="179.34" y="372.10" width="2.8" height="2.8" fill="none" stroke="#000" stroke-width="1"/>
<rect x="179.46" y="374.90" width="2.8" height="2.8" fill="none" stroke="#000" stroke-width="1"/>
<rect x="179.55" y="382.60" width="2.8" height="2.8" fill="none" stroke="#000" stroke-width="1"/>
<rect x="179.27" y="385.60" width="2.8" height="2.8" fill="none" stroke="#000" stroke-width="1"/>
<rect x="179.37" y="388.60" width="2.8" height="2.8" fill="none" stroke="#000" stroke-width="1"/>
<rect x="179.30" y="391.60" width="2.8" height="2.8" fill="none" stroke="#000" stroke-width="1"/>
<rect x="179.30" y="314.30" width="2.8" height="2.8" fill="#000" stroke="#000" stroke-width="1"/>
<rect x="179.30" y="398.60" width="2.8" height="2.8" fill="#000" stroke="#000" stroke-width="1"/>
<rect x="208.41" y="318.60" width="2.8" height="2.8" fill="none" stroke="#000" stroke-width="1"/>
<rect x="208.52" y="327.40" width="2.8" height="2.8" fill="none" stroke="#000" stroke-width="1"/>
<rect x="208.37" y="331.60" width="2.8" height="2.8" fill="none" stroke="#000" stroke-width="1"/>
<rect x="208.42" y="335.60" width="2.8" height="2.8" fill="none" stroke="#000" stroke-width="1"/>
<rect x="208.39" y="339.60" width="2.8" height="2.8" fill="none" stroke="#000" stroke-width="1"/>
<rect x="208.66" y="343.60" width="2.8" height="2.8" fill="none" stroke="#000" stroke-width="1"/>
<rect x="208.52" y="347.60" width="2.8" height="2.8" fill="none" stroke="#000" stroke-width="1"/>
<rect x="208.63" y="353.90" width="2.8" height="2.8" fill="none" stroke="#000" stroke-width="1"/>
<rect x="208.67" y="360.60" width="2.8" height="2.8" fill="none" stroke="#000" stroke-width="1"/>
<rect x="208.26" y="364.60" width="2.8" height="2.8" fill="none" stroke="#000" stroke-width="1"/>
<rect x="208.44" y="369.40" width="2.8" height="2.8" fill="none" stroke="#000" stroke-width="1"/>
<rect x="208.67" y="374.90" width="2.8" height="2.8" fill="none" stroke="#000" stroke-width="1"/>
<rect x="208.60" y="378.60" width="2.8" height="2.8" fill="none" stroke="#000" stroke-width="1"/>
<rect x="208.18" y="382.60" width="2.8" height="2.8" fill="none" stroke="#000" stroke-width="1"/>
<rect x="208.17" y="387.10" width="2.8" height="2.8" fill="none" stroke="#000" stroke-width="1"/>
<rect x="208.40" y="308.60" width="2.8" height="2.8" fill="#000" stroke="#000" stroke-width="1"/>
<rect x="208.40" y="397.30" width="2.8" height="2.8" fill="#000" stroke="#000" stroke-width="1"/>
<rect x="237.47" y="307.60" width="2.8" height="2.8" fill="none" stroke="#000" stroke-width="1"/>
<rect x="237.24" y="310.60" width="2.8" height="2.8" fill="none" stroke="#000" stroke-width="1"/>
<rect x="237.34" y="313.60" width="2.8" height="2.8" fill="none" stroke="#000" stroke-width="1"/>
<rect x="237.24" y="316.60" width="2.8" height="2.8" fill="none" stroke="#000" stroke-width="1"/>
<rect x="237.60" y="320.60" width="2.8" height="2.8" fill="none" stroke="#000" stroke-width="1"/>
<rect x="237.67" y="324.60" width="2.8" height="2.8" fill="none" stroke="#000" stroke-width="1"/>
<rect x="237.74" y="328.60" width="2.8" height="2.8" fill="none" stroke="#000" stroke-width="1"/>
<rect x="237.29" y="332.60" width="2.8" height="2.8" fill="none" stroke="#000" stroke-width="1"/>
<rect x="237.63" y="336.60" width="2.8" height="2.8" fill="none" stroke="#000" stroke-width="1"/>
<rect x="237.60" y="347.30" width="2.8" height="2.8" fill="none" stroke="#000" stroke-width="1"/>
<rect x="237.29" y="350.60" width="2.8" height="2.8" fill="none" stroke="#000" stroke-width="1"/>
<rect x="237.73" y="353.90" width="2.8" height="2.8" fill="none" stroke="#000" stroke-width="1"/>
<rect x="237.78" y="356.60" width="2.8" height="2.8" fill="none" stroke="#000" stroke-width="1"/>
<rect x="237.33" y="360.60" width="2.8" height="2.8" fill="none" stroke="#000" stroke-width="1"/>
<rect x="237.77" y="365.00" width="2.8" height="2.8" fill="none" stroke="#000" stroke-width="1"/>
<rect x="237.44" y="369.40" width="2.8" height="2.8" fill="none" stroke="#000" stroke-width="1"/>
<rect x="237.49" y="373.80" width="2.8" height="2.8" fill="none" stroke="#000" stroke-width="1"/>
<rect x="237.50" y="304.80" width="2.8" height="2.8" fill="#000" stroke="#000" stroke-width="1"/>
<rect x="237.50" y="376.60" width="2.8" height="2.8" fill="#000" stroke="#000" stroke-width="1"/>
<rect x="266.89" y="300.60" width="2.8" height="2.8" fill="none" stroke="#000" stroke-width="1"/>
<rect x="266.80" y="303.00" width="2.8" height="2.8" fill="none" stroke="#000" stroke-width="1"/>
<rect x="266.40" y="311.90" width="2.8" height="2.8" fill="none" stroke="#000" stroke-width="1"/>
<rect x="266.56" y="316.30" width="2.8" height="2.8" fill="none" stroke="#000" stroke-width="1"/>
<rect x="266.61" y="331.80" width="2.8" height="2.8" fill="none" stroke="#000" stroke-width="1"/>
<rect x="266.50" y="346.20" width="2.8" height="2.8" fill="none" stroke="#000" stroke-width="1"/>
<rect x="266.42" y="348.60" width="2.8" height="2.8" fill="none" stroke="#000" stroke-width="1"/>
<rect x="266.49" y="351.60" width="2.8" height="2.8" fill="none" stroke="#000" stroke-width="1"/>
<rect x="266.73" y="363.90" width="2.8" height="2.8" fill="none" stroke="#000" stroke-width="1"/>
<rect x="266.31" y="369.40" width="2.8" height="2.8" fill="none" stroke="#000" stroke-width="1"/>
<rect x="266.63" y="374.90" width="2.8" height="2.8" fill="none" stroke="#000" stroke-width="1"/>
<rect x="266.60" y="293.40" width="2.8" height="2.8" fill="#000" stroke="#000" stroke-width="1"/>
<rect x="266.60" y="393.10" width="2.8" height="2.8" fill="#000" stroke="#000" stroke-width="1"/>
<rect x="295.66" y="291.30" width="2.8" height="2.8" fill="none" stroke="#000" stroke-width="1"/>
<rect x="295.41" y="300.10" width="2.8" height="2.8" fill="none" stroke="#000" stroke-width="1"/>
<rect x="295.60" y="302.60" width="2.8" height="2.8" fill="none" stroke="#000" stroke-width="1"/>
<rect x="295.77" y="304.60" width="2.8" height="2.8" fill="none" stroke="#000" stroke-width="1"/>
<rect x="295.71" y="309.00" width="2.8" height="2.8" fill="none" stroke="#000" stroke-width="1"/>
<rect x="295.44" y="311.20" width="2.8" height="2.8" fill="none" stroke="#000" stroke-width="1"/>
<rect x="295.99" y="313.40" width="2.8" height="2.8" fill="none" stroke="#000" stroke-width="1"/>
<rect x="295.87" y="320.00" width="2.8" height="2.8" fill="none" stroke="#000" stroke-width="1"/>
<rect x="295.98" y="326.60" width="2.8" height="2.8" fill="none" stroke="#000" stroke-width="1"/>
<rect x="295.46" y="330.00" width="2.8" height="2.8" fill="none" stroke="#000" stroke-width="1"/>
<rect x="297.20" y="342.10" width="2.8" height="2.8" fill="none" stroke="#000" stroke-width="1"/>
<rect x="297.20" y="347.60" width="2.8" height="2.8" fill="none" stroke="#000" stroke-width="1"/>
<rect x="295.70" y="287.90" width="2.8" height="2.8" fill="#000" stroke="#000" stroke-width="1"/>
<rect x="295.70" y="352.10" width="2.8" height="2.8" fill="#000" stroke="#000" stroke-width="1"/>
<rect x="294.80" y="372.10" width="2.8" height="2.8" fill="none" stroke="#000" stroke-width="1"/>
<rect x="296.40" y="381.60" width="2.8" height="2.8" fill="none" stroke="#000" stroke-width="1"/>
<rect x="324.66" y="299.00" width="2.8" height="2.8" fill="none" stroke="#000" stroke-width="1"/>
<rect x="324.52" y="304.60" width="2.8" height="2.8" fill="none" stroke="#000" stroke-width="1"/>
<rect x="324.97" y="311.20" width="2.8" height="2.8" fill="none" stroke="#000" stroke-width="1"/>
<rect x="324.66" y="313.60" width="2.8" height="2.8" fill="none" stroke="#000" stroke-width="1"/>
<rect x="324.58" y="315.60" width="2.8" height="2.8" fill="none" stroke="#000" stroke-width="1"/>
<rect x="324.75" y="320.00" width="2.8" height="2.8" fill="none" stroke="#000" stroke-width="1"/>
<rect x="325.05" y="325.60" width="2.8" height="2.8" fill="none" stroke="#000" stroke-width="1"/>
<rect x="324.99" y="327.80" width="2.8" height="2.8" fill="none" stroke="#000" stroke-width="1"/>
<rect x="324.66" y="334.40" width="2.8" height="2.8" fill="none" stroke="#000" stroke-width="1"/>
<rect x="324.59" y="336.10" width="2.8" height="2.8" fill="none" stroke="#000" stroke-width="1"/>
<rect x="325.05" y="337.60" width="2.8" height="2.8" fill="none" stroke="#000" stroke-width="1"/>
<rect x="324.80" y="292.90" width="2.8" height="2.8" fill="#000" stroke="#000" stroke-width="1"/>
<rect x="324.80" y="345.60" width="2.8" height="2.8" fill="#000" stroke="#000" stroke-width="1"/>
<rect x="325.10" y="286.40" width="2.8" height="2.8" fill="none" stroke="#000" stroke-width="1"/>
<rect x="353.94" y="282.40" width="2.8" height="2.8" fill="none" stroke="#000" stroke-width="1"/>
<rect x="354.90" y="292.40" width="2.8" height="2.8" fill="none" stroke="#000" stroke-width="1"/>
<rect x="354.02" y="302.30" width="2.8" height="2.8" fill="none" stroke="#000" stroke-width="1"/>
<rect x="353.65" y="310.10" width="2.8" height="2.8" fill="none" stroke="#000" stroke-width="1"/>
<rect x="353.63" y="320.00" width="2.8" height="2.8" fill="none" stroke="#000" stroke-width="1"/>
<rect x="354.01" y="332.20" width="2.8" height="2.8" fill="none" stroke="#000" stroke-width="1"/>
<rect x="354.90" y="338.80" width="2.8" height="2.8" fill="none" stroke="#000" stroke-width="1"/>
<rect x="354.90" y="343.20" width="2.8" height="2.8" fill="none" stroke="#000" stroke-width="1"/>
<rect x="354.90" y="347.60" width="2.8" height="2.8" fill="none" stroke="#000" stroke-width="1"/>
<rect x="353.90" y="270.80" width="2.8" height="2.8" fill="#000" stroke="#000" stroke-width="1"/>
<rect x="353.90" y="355.90" width="2.8" height="2.8" fill="#000" stroke="#000" stroke-width="1"/>
<rect x="381.50" y="284.60" width="2.8" height="2.8" fill="none" stroke="#000" stroke-width="1"/>
<rect x="381.50" y="286.80" width="2.8" height="2.8" fill="none" stroke="#000" stroke-width="1"/>
<rect x="381.00" y="304.60" width="2.8" height="2.8" fill="none" stroke="#000" stroke-width="1"/>
<rect x="384.50" y="307.80" width="2.8" height="2.8" fill="none" stroke="#000" stroke-width="1"/>
<rect x="384.50" y="311.20" width="2.8" height="2.8" fill="none" stroke="#000" stroke-width="1"/>
<rect x="381.50" y="316.60" width="2.8" height="2.8" fill="none" stroke="#000" stroke-width="1"/>
<rect x="384.50" y="319.10" width="2.8" height="2.8" fill="none" stroke="#000" stroke-width="1"/>
<rect x="381.50" y="322.20" width="2.8" height="2.8" fill="none" stroke="#000" stroke-width="1"/>
<rect x="381.50" y="327.80" width="2.8" height="2.8" fill="none" stroke="#000" stroke-width="1"/>
<rect x="381.50" y="332.20" width="2.8" height="2.8" fill="none" stroke="#000" stroke-width="1"/>
<rect x="381.50" y="341.00" width="2.8" height="2.8" fill="none" stroke="#000" stroke-width="1"/>
<rect x="383.00" y="282.10" width="2.8" height="2.8" fill="#000" stroke="#000" stroke-width="1"/>
<rect x="383.00" y="351.30" width="2.8" height="2.8" fill="#000" stroke="#000" stroke-width="1"/>
<rect x="410.30" y="284.60" width="2.8" height="2.8" fill="none" stroke="#000" stroke-width="1"/>
<rect x="413.10" y="285.20" width="2.8" height="2.8" fill="none" stroke="#000" stroke-width="1"/>
<rect x="412.50" y="288.60" width="2.8" height="2.8" fill="none" stroke="#000" stroke-width="1"/>
<rect x="410.30" y="304.00" width="2.8" height="2.8" fill="none" stroke="#000" stroke-width="1"/>
<rect x="411.40" y="312.80" width="2.8" height="2.8" fill="none" stroke="#000" stroke-width="1"/>
<rect x="411.80" y="321.30" width="2.8" height="2.8" fill="none" stroke="#000" stroke-width="1"/>
<rect x="410.30" y="326.60" width="2.8" height="2.8" fill="none" stroke="#000" stroke-width="1"/>
<rect x="410.30" y="342.60" width="2.8" height="2.8" fill="none" stroke="#000" stroke-width="1"/>
<rect x="412.10" y="279.10" width="2.8" height="2.8" fill="#000" stroke="#000" stroke-width="1"/>
<rect x="412.10" y="350.00" width="2.8" height="2.8" fill="#000" stroke="#000" stroke-width="1"/>
<rect x="442.90" y="290.10" width="2.8" height="2.8" fill="none" stroke="#000" stroke-width="1"/>
<rect x="439.20" y="300.60" width="2.8" height="2.8" fill="none" stroke="#000" stroke-width="1"/>
<rect x="442.90" y="302.90" width="2.8" height="2.8" fill="none" stroke="#000" stroke-width="1"/>
<rect x="439.70" y="305.10" width="2.8" height="2.8" fill="none" stroke="#000" stroke-width="1"/>
<rect x="442.90" y="311.30" width="2.8" height="2.8" fill="none" stroke="#000" stroke-width="1"/>
<rect x="439.20" y="315.60" width="2.8" height="2.8" fill="none" stroke="#000" stroke-width="1"/>
<rect x="442.50" y="317.60" width="2.8" height="2.8" fill="none" stroke="#000" stroke-width="1"/>
<rect x="439.20" y="323.90" width="2.8" height="2.8" fill="none" stroke="#000" stroke-width="1"/>
<rect x="439.20" y="328.30" width="2.8" height="2.8" fill="none" stroke="#000" stroke-width="1"/>
<rect x="442.90" y="330.10" width="2.8" height="2.8" fill="none" stroke="#000" stroke-width="1"/>
<rect x="441.20" y="335.00" width="2.8" height="2.8" fill="none" stroke="#000" stroke-width="1"/>
<rect x="441.20" y="337.60" width="2.8" height="2.8" fill="none" stroke="#000" stroke-width="1"/>
<rect x="439.70" y="342.60" width="2.8" height="2.8" fill="none" stroke="#000" stroke-width="1"/>
<rect x="441.20" y="278.30" width="2.8" height="2.8" fill="#000" stroke="#000" stroke-width="1"/>
<rect x="441.20" y="357.60" width="2.8" height="2.8" fill="#000" stroke="#000" stroke-width="1"/>
<rect x="471.00" y="282.30" width="2.8" height="2.8" fill="none" stroke="#000" stroke-width="1"/>
<rect x="468.80" y="296.30" width="2.8" height="2.8" fill="none" stroke="#000" stroke-width="1"/>
<rect x="471.00" y="319.50" width="2.8" height="2.8" fill="none" stroke="#000" stroke-width="1"/>
<rect x="472.10" y="327.20" width="2.8" height="2.8" fill="none" stroke="#000" stroke-width="1"/>
<rect x="473.20" y="332.30" width="2.8" height="2.8" fill="none" stroke="#000" stroke-width="1"/>
<rect x="470.30" y="276.40" width="2.8" height="2.8" fill="#000" stroke="#000" stroke-width="1"/>
<rect x="470.30" y="354.00" width="2.8" height="2.8" fill="#000" stroke="#000" stroke-width="1"/>
<rect x="501.60" y="282.30" width="2.8" height="2.8" fill="none" stroke="#000" stroke-width="1"/>
<rect x="501.10" y="296.30" width="2.8" height="2.8" fill="none" stroke="#000" stroke-width="1"/>
<rect x="499.40" y="311.10" width="2.8" height="2.8" fill="none" stroke="#000" stroke-width="1"/>
<rect x="501.10" y="316.20" width="2.8" height="2.8" fill="none" stroke="#000" stroke-width="1"/>
<rect x="498.30" y="326.60" width="2.8" height="2.8" fill="none" stroke="#000" stroke-width="1"/>
<rect x="497.20" y="332.30" width="2.8" height="2.8" fill="none" stroke="#000" stroke-width="1"/>
<rect x="501.60" y="342.60" width="2.8" height="2.8" fill="none" stroke="#000" stroke-width="1"/>
<rect x="499.40" y="276.40" width="2.8" height="2.8" fill="#000" stroke="#000" stroke-width="1"/>
<rect x="499.40" y="351.30" width="2.8" height="2.8" fill="#000" stroke="#000" stroke-width="1"/>
<polygon points="65.2,336.2 94.2,344.5 123.1,339.5 152.1,321.2 181.0,315.0 210.0,308.7 239.0,306.5 267.9,295.5 296.9,289.7 325.8,293.8 354.8,273.5 383.8,283.0 412.7,281.9 441.7,280.3 470.6,278.4 499.6,278.4 499.6,354.0 470.6,355.4 441.7,358.0 412.7,352.7 383.8,353.2 354.8,356.0 325.8,347.0 296.9,353.5 267.9,393.7 239.0,378.7 210.0,395.0 181.0,400.0 152.1,417.5 123.1,419.0 94.2,416.5 65.2,428.0" fill="#cd0000" fill-opacity="0.25"/>
<polygon points="65.2,367.0 94.2,372.5 123.1,362.0 152.1,356.0 181.0,347.5 210.0,338.0 239.0,323.0 267.9,315.3 296.9,306.0 325.8,311.4 354.8,304.6 383.8,307.3 412.7,306.0 441.7,304.0 470.6,285.0 499.6,293.2 499.6,329.7 470.6,329.7 441.7,333.8 412.7,328.4 383.8,326.2 354.8,333.0 325.8,327.6 296.9,330.3 267.9,355.5 239.0,356.0 210.0,377.5 181.0,385.0 152.1,382.3 123.1,389.5 94.2,394.0 65.2,397.2" fill="#cd0000" fill-opacity="0.25"/>
</g>
<rect x="46.85" y="251.5" width="471.4" height="206.8" fill="none" stroke="#333" stroke-width="1"/>
<line x1="40.4" x2="46.85" y1="450.75" y2="450.75" stroke="#aaa" stroke-width="1"/>
<line x1="40.4" x2="46.85" y1="418.75" y2="418.75" stroke="#aaa" stroke-width="1"/>
<line x1="40.4" x2="46.85" y1="386.75" y2="386.75" stroke="#aaa" stroke-width="1"/>
<line x1="40.4" x2="46.85" y1="354.75" y2="354.75" stroke="#aaa" stroke-width="1"/>
<line x1="40.4" x2="46.85" y1="322.75" y2="322.75" stroke="#aaa" stroke-width="1"/>
<line x1="40.4" x2="46.85" y1="290.75" y2="290.75" stroke="#aaa" stroke-width="1"/>
<line x1="40.4" x2="46.85" y1="258.75" y2="258.75" stroke="#aaa" stroke-width="1"/>
<line x1="44.2" x2="46.85" y1="457.15" y2="457.15" stroke="#333" stroke-width="1"/>
<line x1="44.2" x2="46.85" y1="444.35" y2="444.35" stroke="#333" stroke-width="1"/>
<line x1="44.2" x2="46.85" y1="437.95" y2="437.95" stroke="#333" stroke-width="1"/>
<line x1="44.2" x2="46.85" y1="431.55" y2="431.55" stroke="#333" stroke-width="1"/>
<line x1="44.2" x2="46.85" y1="425.15" y2="425.15" stroke="#333" stroke-width="1"/>
<line x1="44.2" x2="46.85" y1="412.35" y2="412.35" stroke="#333" stroke-width="1"/>
<line x1="44.2" x2="46.85" y1="405.95" y2="405.95" stroke="#333" stroke-width="1"/>
<line x1="44.2" x2="46.85" y1="399.55" y2="399.55" stroke="#333" stroke-width="1"/>
<line x1="44.2" x2="46.85" y1="393.15" y2="393.15" stroke="#333" stroke-width="1"/>
<line x1="44.2" x2="46.85" y1="380.35" y2="380.35" stroke="#333" stroke-width="1"/>
<line x1="44.2" x2="46.85" y1="373.95" y2="373.95" stroke="#333" stroke-width="1"/>
<line x1="44.2" x2="46.85" y1="367.55" y2="367.55" stroke="#333" stroke-width="1"/>
<line x1="44.2" x2="46.85" y1="361.15" y2="361.15" stroke="#333" stroke-width="1"/>
<line x1="44.2" x2="46.85" y1="348.35" y2="348.35" stroke="#333" stroke-width="1"/>
<line x1="44.2" x2="46.85" y1="341.95" y2="341.95" stroke="#333" stroke-width="1"/>
<line x1="44.2" x2="46.85" y1="335.55" y2="335.55" stroke="#333" stroke-width="1"/>
<line x1="44.2" x2="46.85" y1="329.15" y2="329.15" stroke="#333" stroke-width="1"/>
<line x1="44.2" x2="46.85" y1="316.35" y2="316.35" stroke="#333" stroke-width="1"/>
<line x1="44.2" x2="46.85" y1="309.95" y2="309.95" stroke="#333" stroke-width="1"/>
<line x1="44.2" x2="46.85" y1="303.55" y2="303.55" stroke="#333" stroke-width="1"/>
<line x1="44.2" x2="46.85" y1="297.15" y2="297.15" stroke="#333" stroke-width="1"/>
<line x1="44.2" x2="46.85" y1="284.35" y2="284.35" stroke="#333" stroke-width="1"/>
<line x1="44.2" x2="46.85" y1="277.95" y2="277.95" stroke="#333" stroke-width="1"/>
<line x1="44.2" x2="46.85" y1="271.55" y2="271.55" stroke="#333" stroke-width="1"/>
<line x1="44.2" x2="46.85" y1="265.15" y2="265.15" stroke="#333" stroke-width="1"/>
<line x1="44.2" x2="46.85" y1="252.35" y2="252.35" stroke="#333" stroke-width="1"/>
<line x1="64.3" x2="64.3" y1="458.3" y2="464.3" stroke="#333" stroke-width="1"/>
<line x1="93.4" x2="93.4" y1="458.3" y2="464.3" stroke="#333" stroke-width="1"/>
<line x1="122.5" x2="122.5" y1="458.3" y2="464.3" stroke="#333" stroke-width="1"/>
<line x1="151.6" x2="151.6" y1="458.3" y2="464.3" stroke="#333" stroke-width="1"/>
<line x1="180.7" x2="180.7" y1="458.3" y2="464.3" stroke="#333" stroke-width="1"/>
<line x1="209.8" x2="209.8" y1="458.3" y2="464.3" stroke="#333" stroke-width="1"/>
<line x1="238.9" x2="238.9" y1="458.3" y2="464.3" stroke="#333" stroke-width="1"/>
<line x1="268.0" x2="268.0" y1="458.3" y2="464.3" stroke="#333" stroke-width="1"/>
<line x1="297.1" x2="297.1" y1="458.3" y2="464.3" stroke="#333" stroke-width="1"/>
<line x1="326.2" x2="326.2" y1="458.3" y2="464.3" stroke="#333" stroke-width="1"/>
<line x1="355.3" x2="355.3" y1="458.3" y2="464.3" stroke="#333" stroke-width="1"/>
<line x1="384.4" x2="384.4" y1="458.3" y2="464.3" stroke="#333" stroke-width="1"/>
<line x1="413.5" x2="413.5" y1="458.3" y2="464.3" stroke="#333" stroke-width="1"/>
<line x1="442.6" x2="442.6" y1="458.3" y2="464.3" stroke="#333" stroke-width="1"/>
<line x1="471.7" x2="471.7" y1="458.3" y2="464.3" stroke="#333" stroke-width="1"/>
<line x1="500.8" x2="500.8" y1="458.3" y2="464.3" stroke="#333" stroke-width="1"/>
<text transform="translate(32.6,450.75) rotate(-90)" text-anchor="middle" class="t">20%</text>
<text transform="translate(32.6,418.75) rotate(-90)" text-anchor="middle" class="t">25%</text>
<text transform="translate(32.6,386.75) rotate(-90)" text-anchor="middle" class="t">30%</text>
<text transform="translate(32.6,354.75) rotate(-90)" text-anchor="middle" class="t">35%</text>
<text transform="translate(32.6,322.75) rotate(-90)" text-anchor="middle" class="t">40%</text>
<text transform="translate(32.6,290.75) rotate(-90)" text-anchor="middle" class="t">45%</text>
<text transform="translate(32.6,258.75) rotate(-90)" text-anchor="middle" class="t">50%</text>
<text x="64.3" y="479.8" text-anchor="middle" class="t">C1</text>
<text x="93.4" y="479.8" text-anchor="middle" class="t">C2</text>
<text x="122.5" y="479.8" text-anchor="middle" class="t">C3</text>
<text x="151.6" y="479.8" text-anchor="middle" class="t">C4</text>
<text x="180.7" y="479.8" text-anchor="middle" class="t">C5</text>
<text x="209.8" y="479.8" text-anchor="middle" class="t">C6</text>
<text x="238.9" y="479.8" text-anchor="middle" class="t">INT</text>
<text x="268.0" y="479.8" text-anchor="middle" class="t">M1</text>
<text x="297.1" y="479.8" text-anchor="middle" class="t">M2</text>
<text x="326.2" y="479.8" text-anchor="middle" class="t">M3</text>
<text x="355.3" y="479.8" text-anchor="middle" class="t">M4</text>
<text x="384.4" y="479.8" text-anchor="middle" class="t">M5</text>
<text x="413.5" y="479.8" text-anchor="middle" class="t">M6</text>
<text x="442.6" y="479.8" text-anchor="middle" class="t">M7</text>
<text x="471.7" y="479.8" text-anchor="middle" class="t">M8</text>
<text x="500.8" y="479.8" text-anchor="middle" class="t">EOT</text>
<text transform="translate(8.6,354.3) rotate(-90)" text-anchor="middle" class="t">Hematocrit (%)</text>
<text x="0.5" y="262" class="L">B</text>
</svg>
</body></html>
